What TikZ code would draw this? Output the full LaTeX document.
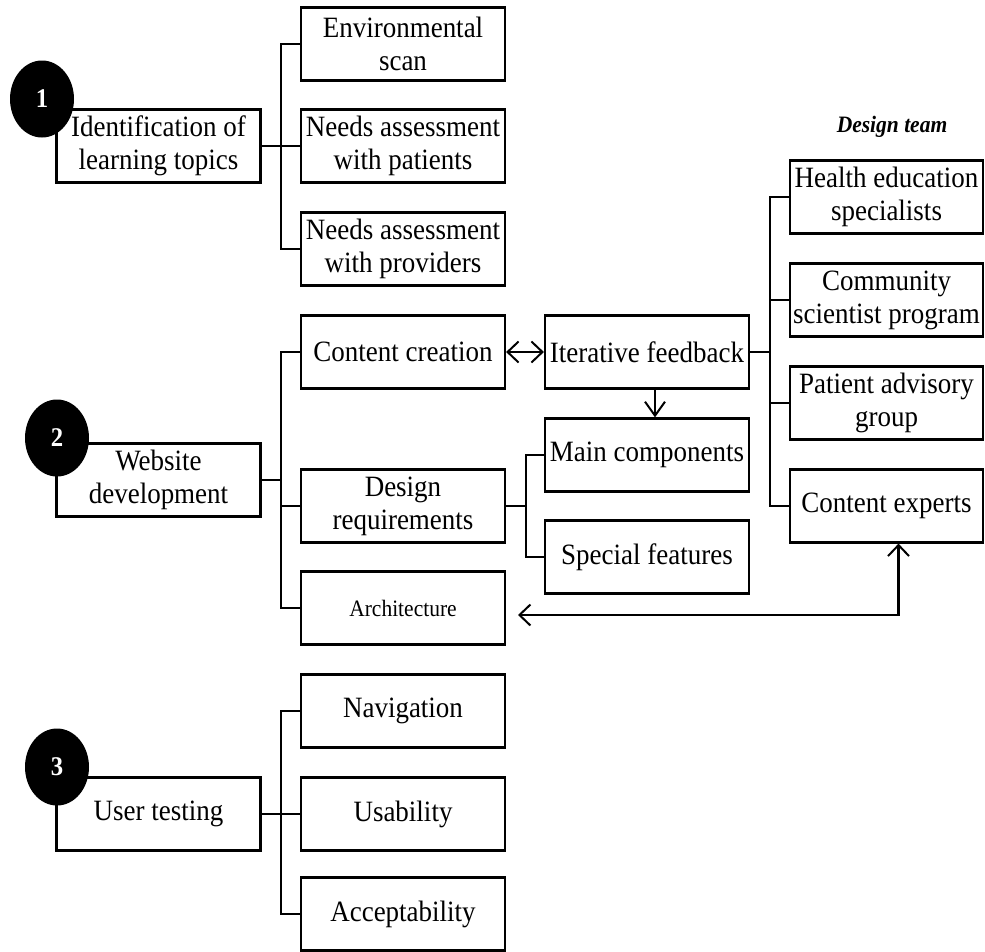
\documentclass[tikz,border=0pt]{standalone}
\usepackage{fontspec}
\setmainfont[FakeStretch=0.915]{Liberation Serif}
\usetikzlibrary{shapes.geometric,arrows.meta}
\begin{document}
\begin{tikzpicture}[x=1pt,y=-1pt,line width=2.2pt,
	box/.style={draw,rectangle,minimum width=204pt,minimum height=73pt,inner sep=2pt,align=center,font=\fontsize{29.5}{33}\selectfont},
	teambox/.style={box,minimum width=193pt},
	badge/.style={ellipse,fill=black,text=white,minimum width=64pt,minimum height=77pt,inner sep=0pt,font=\fontsize{27}{27}\selectfont\bfseries},
	barb/.style={-{Straight Barb[length=14pt,width=20pt,line width=2pt]}},
	dbarb/.style={{Straight Barb[length=11pt,width=21pt,line width=2pt]}-{Straight Barb[length=11pt,width=21pt,line width=2pt]}}]
	\useasboundingbox (0,0) rectangle (985,951);
	% Step 1
	\node[box] (topics) at (158.5,146) {Identification of\\learning topics};
	\node[box] (scan) at (403,44) {Environmental\\scan};
	\node[box] (patients) at (403,146) {Needs assessment\\with patients};
	\node[box] (providers) at (403,249) {Needs assessment\\with providers};
	\draw (topics.east) -- ++(19,0) coordinate (bus1);
	\foreach \c in {scan,patients,providers}{
		\draw (bus1) |- (\c.west);
	}
	% Step 2
	\node[box] (website) at (158.5,480) {Website\\development};
	\node[box] (creation) at (403,352) {Content creation};
	\node[box] (designreq) at (403,506) {Design\\requirements};
	\node[box] (arch) at (403,608) {\fontsize{23.5}{26}\selectfont Architecture};
	\draw (website.east) -- ++(19,0) coordinate (bus2);
	\foreach \c in {creation,designreq,arch}{
		\draw (bus2) |- (\c.west);
	}
	\node[box] (feedback) at (647,352) {Iterative feedback};
	\node[box] (maincomp) at (647,455) {Main components};
	\node[box] (special) at (647,557) {Special features};
	\draw (designreq.east) -- ++(20,0) coordinate (bus3);
	\foreach \c in {maincomp,special}{
		\draw (bus3) |- (\c.west);
	}
	\draw[dbarb] (creation.east) -- (feedback.west);
	\draw[barb] ([xshift=8pt]feedback.south) -- ([xshift=8pt]maincomp.north);
	% Design team
	\node[font=\fontsize{23.5}{26}\selectfont\bfseries\itshape] (team) at (892,127) {Design team};
	\node[teambox] (health) at (886.5,197) {Health education\\specialists};
	\node[teambox] (community) at (886.5,300) {Community\\scientist program};
	\node[teambox] (advisory) at (886.5,403) {Patient advisory\\group};
	\node[teambox] (experts) at (886.5,506) {Content experts};
	\draw (feedback.east) -- ++(20,0) coordinate (bus4);
	\foreach \c in {health,community,advisory,experts}{
		\draw (bus4) |- (\c.west);
	}
	\coordinate (archtip) at (518,615);
	\draw[dbarb] (archtip) -| ([xshift=12pt]experts.south);
	% Step 3
	\node[box] (testing) at (158.5,814) {User testing};
	\node[box] (navigation) at (403,711) {Navigation};
	\node[box] (usability) at (403,814) {Usability};
	\node[box] (accept) at (403,914) {Acceptability};
	\draw (testing.east) -- ++(19,0) coordinate (bus5);
	\foreach \c in {navigation,usability,accept}{
		\draw (bus5) |- (\c.west);
	}
	% Numbered badges
	\node[badge] (one) at (42,99) {1};
	\node[badge] (two) at (57,438) {2};
	\node[badge] (three) at (57,767) {3};
\end{tikzpicture}
\end{document}
